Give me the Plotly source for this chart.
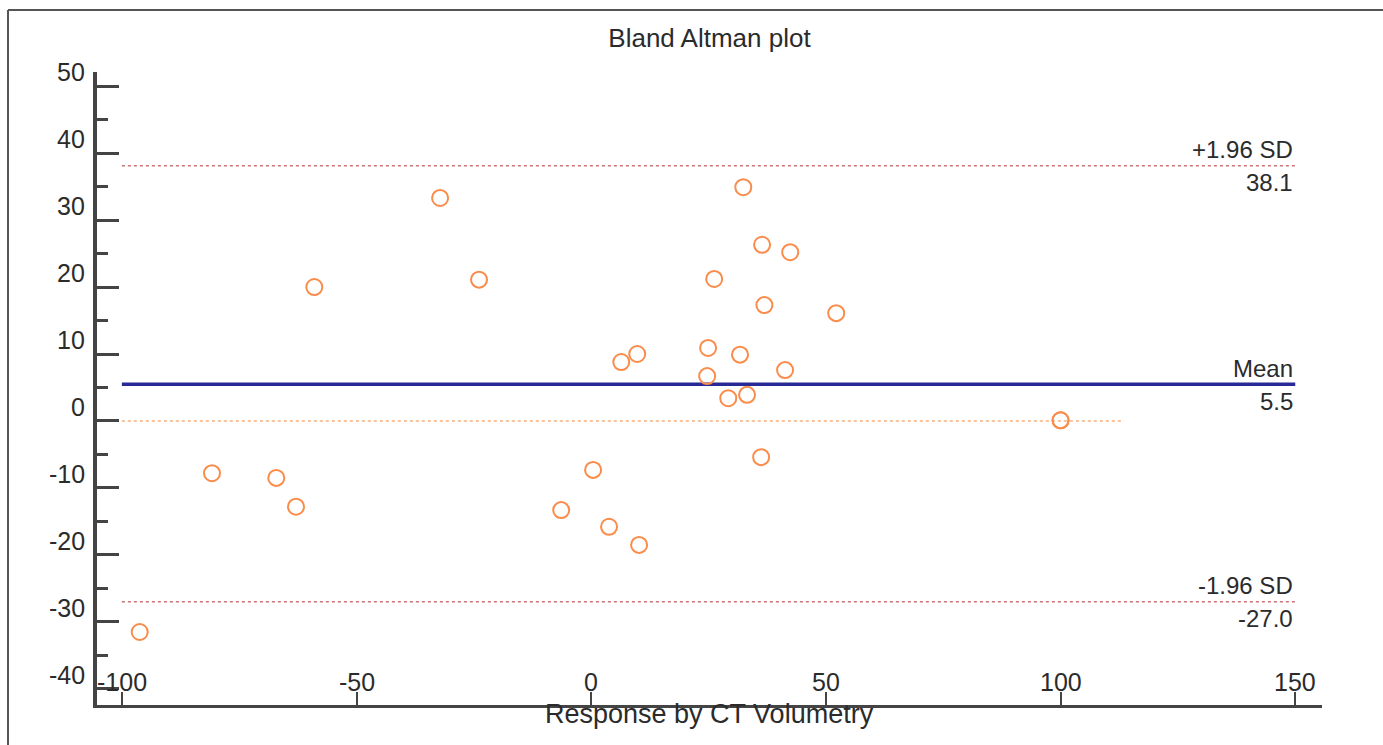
import plotly.graph_objects as go

# ---- data ----
avg_response = [-32.2, 32.4, 36.4, 42.4, -59.0, -23.9, 26.2, 36.9, 52.2, 24.9,
                9.8, 6.4, 31.7, 24.7, 41.3, 29.2, 33.2, 100.0, 100.0, -80.8,
                -67.1, -62.9, 0.4, 36.2, -6.4, 3.8, 10.2, -96.2]
difference = [33.3, 34.9, 26.3, 25.2, 20.0, 21.1, 21.2, 17.3, 16.1, 10.9,
              10.0, 8.8, 9.9, 6.7, 7.6, 3.4, 3.9, 0.1, 0.1, -7.8,
              -8.5, -12.8, -7.3, -5.4, -13.3, -15.8, -18.5, -31.5]

mean_diff = 5.5
upper_loa = 38.1
lower_loa = -27.0
line_x = [-100, 150]
zero_line_x = [-100, 113]

x_ticks = [-100, -50, 0, 50, 100, 150]
x_tick_labels = ["-100", "-50", "0", "50", "100", "150"]
y_ticks = [-40, -30, -20, -10, 0, 10, 20, 30, 40, 50]
y_tick_labels = ["-40", "-30", "-20", "-10", "0", "10", "20", "30", "40", "50"]

FONT = "Liberation Sans, Arial, sans-serif"
TXT = "#2b2b2b"
AX = "#444444"

fig = go.Figure()

# zero reference line
fig.add_trace(go.Scatter(x=zero_line_x, y=[0, 0], mode="lines",
                         line=dict(color="rgb(250,175,125)", width=1.5, dash="dot"),
                         hoverinfo="skip", showlegend=False))
# limits of agreement
for v in (upper_loa, lower_loa):
    fig.add_trace(go.Scatter(x=line_x, y=[v, v], mode="lines",
                             line=dict(color="rgb(205,115,115)", width=1.5, dash="dot"),
                             hoverinfo="skip", showlegend=False))
# mean line
fig.add_trace(go.Scatter(x=line_x, y=[mean_diff, mean_diff], mode="lines",
                         line=dict(color="rgb(40,40,150)", width=3.5),
                         hoverinfo="skip", showlegend=False))
# points
fig.add_trace(go.Scatter(x=avg_response, y=difference, mode="markers",
                         marker=dict(symbol="circle-open", size=16,
                                     color="rgb(250,140,75)",
                                     line=dict(width=2, color="rgb(250,140,75)")),
                         showlegend=False))

labels = [
    (upper_loa, "+1.96 SD", f"{upper_loa:.1f}"),
    (mean_diff, "Mean", f"{mean_diff:.1f}"),
    (lower_loa, "-1.96 SD", f"{lower_loa:.1f}"),
]
for v, top, bottom in labels:
    fig.add_annotation(x=line_x[1], y=v, text=top, showarrow=False,
                       xanchor="right", yanchor="middle", yshift=16,
                       font=dict(family=FONT, size=24, color=TXT))
    fig.add_annotation(x=line_x[1], y=v, text=bottom, showarrow=False,
                       xanchor="right", yanchor="middle", yshift=-17,
                       font=dict(family=FONT, size=24, color=TXT))

# tick labels (x labels sit inside, above the axis; y labels sit above their ticks)
for v, t in zip(x_ticks, x_tick_labels):
    fig.add_annotation(x=v, y=0, yref="paper", text=t, showarrow=False,
                       xanchor="center", yanchor="middle", yshift=23,
                       font=dict(family=FONT, size=25, color=TXT))
for v, t in zip(y_ticks, y_tick_labels):
    fig.add_annotation(x=0, xref="paper", y=v, text=t, showarrow=False,
                       xanchor="right", yanchor="middle", xshift=-10, yshift=14,
                       font=dict(family=FONT, size=25, color=TXT))

# x axis title
fig.add_annotation(x=0.5, y=0, xref="paper", yref="paper", text="Response by CT Volumetry",
                   showarrow=False, xanchor="center", yanchor="middle", yshift=-9,
                   font=dict(family=FONT, size=27, color=TXT))

# frame (top and left)
fig.add_shape(type="line", xref="paper", yref="paper", x0=(8 - 97) / 1225, x1=1.1,
              y0=1 + (72 - 10) / 633, y1=1 + (72 - 10) / 633,
              line=dict(color="#555555", width=2))
fig.add_shape(type="line", xref="paper", yref="paper", x0=(8 - 97) / 1225, x1=(8 - 97) / 1225,
              y0=1 + (72 - 10) / 633, y1=-0.2,
              line=dict(color="#555555", width=2))

fig.update_layout(
    width=1383, height=745,
    margin=dict(l=97, r=61, t=72, b=40),
    paper_bgcolor="white", plot_bgcolor="white",
    font=dict(family=FONT, color=TXT),
    title=dict(text="Bland Altman plot", x=0.5, xref="paper", xanchor="center",
               y=1 - 38 / 745, yref="container", yanchor="middle",
               font=dict(family=FONT, size=26, color=TXT)),
    xaxis=dict(range=[-105.3, 155.7], tickvals=x_ticks, ticks="inside", ticklen=13,
               tickwidth=2, tickcolor=AX, showline=True, linecolor=AX, linewidth=3,
               showgrid=False, zeroline=False, showticklabels=False),
    yaxis=dict(range=[-42.4, 52.1], tickvals=y_ticks, ticks="inside", ticklen=22,
               tickwidth=3, tickcolor=AX, showline=True, linecolor=AX, linewidth=4,
               showgrid=False, zeroline=False, showticklabels=False,
               minor=dict(dtick=5, tick0=0, ticks="inside", ticklen=11, tickwidth=3,
                          tickcolor=AX, showgrid=False)),
)

fig.write_html("out.html")
